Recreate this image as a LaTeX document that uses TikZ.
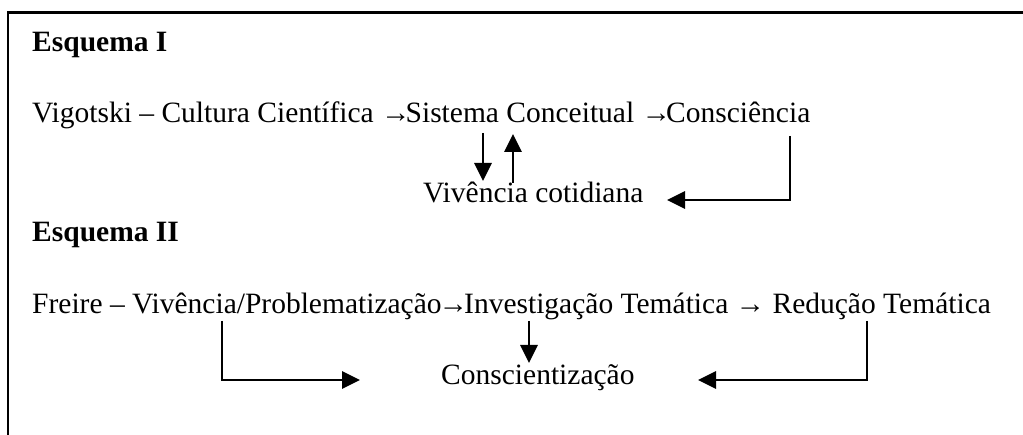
\documentclass[tikz,border=0pt]{standalone}
\usepackage{fontspec}
\setmainfont{Liberation Serif}
\usetikzlibrary{arrows.meta}
\tikzset{
  txt/.style={anchor=base west, inner sep=0pt, font=\fontsize{29.5}{36}\selectfont},
  hdr/.style={txt, font=\fontsize{29.5}{36}\selectfont\bfseries},
  conn/.style={line width=2.8pt, -{Triangle[length=18pt,width=17pt]}},
  frame/.style={line width=2.4pt}
}
\begin{document}
\begin{tikzpicture}[x=1pt,y=1pt]
\useasboundingbox (0,0) rectangle (1023,-435);
% frame
\coordinate (fb) at (8.2,-437);
\coordinate (ftl) at (8.2,-12.5);
\coordinate (fr) at (1025,-12.5);
\draw[frame] (fb) -- (ftl) -- (fr);
% Esquema I
\node[hdr] (e1) at (32,-52) {Esquema I};
\node[txt] (l1) at (32,-123) {Vigotski – Cultura Científica →\kern-5pt Sistema Conceitual →\kern-5pt Consciência};
\node[txt] (viv) at (423,-203) {Vivência cotidiana};
\coordinate (d1s) at (483,-133);
\coordinate (d1e) at (483,-181);
\coordinate (u1s) at (513,-183);
\coordinate (u1e) at (513,-134);
\coordinate (b1s) at (790,-136);
\coordinate (b1c) at (790,-200);
\coordinate (b1e) at (667,-200);
\draw[conn] (d1s) -- (d1e);
\draw[conn] (u1s) -- (u1e);
\draw[conn] (b1s) -- (b1c) -- (b1e);
% Esquema II
\node[hdr] (e2) at (32,-242) {Esquema II};
\node[txt] (l2) at (32,-314) {Freire – Vivência/Problematização\kern-3pt→\kern-4pt Investigação Temática → Redução Temática};
\node[txt] (con) at (441,-385) {Conscientização};
\coordinate (b2s) at (222,-321);
\coordinate (b2c) at (222,-380);
\coordinate (b2e) at (360,-380);
\coordinate (d2s) at (529,-321);
\coordinate (d2e) at (529,-363);
\coordinate (b3s) at (867,-321);
\coordinate (b3c) at (867,-380);
\coordinate (b3e) at (698,-380);
\draw[conn] (b2s) -- (b2c) -- (b2e);
\draw[conn] (d2s) -- (d2e);
\draw[conn] (b3s) -- (b3c) -- (b3e);
\end{tikzpicture}
\end{document}
